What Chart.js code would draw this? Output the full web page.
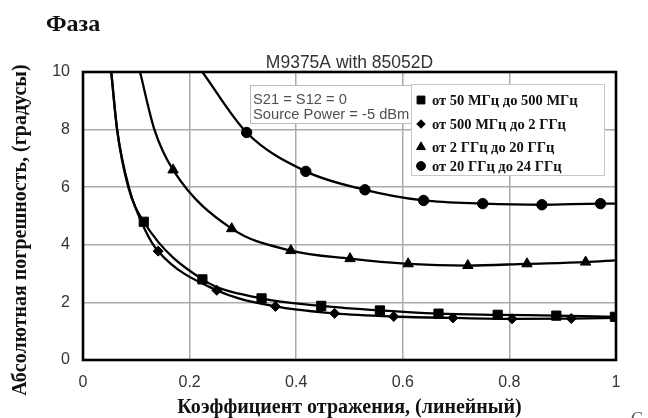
<!DOCTYPE html>
<html>
<head>
<meta charset="utf-8">
<script src="https://cdn.jsdelivr.net/npm/chart.js@4.4.1/dist/chart.umd.min.js"></script>
<style>
  html, body { margin: 0; padding: 0; background: #fff; }
  #wrap { width: 648px; height: 418px; position: relative; }
</style>
</head>
<body>
<div id="wrap"><canvas id="phaseChart"></canvas></div>
<script>
(function () {
  'use strict';

  // values
  const xTicks = [0, 0.2, 0.4, 0.6, 0.8, 1];
  const yTicks = [0, 2, 4, 6, 8, 10];

  const sqX = [0.114, 0.224, 0.335, 0.447, 0.557, 0.667, 0.778, 0.888, 0.998];
  const sqY = [4.80, 2.80, 2.14, 1.88, 1.72, 1.61, 1.57, 1.54, 1.50];
  const dmX = [0.141, 0.251, 0.361, 0.472, 0.583, 0.694, 0.805, 0.916];
  const dmY = [3.78, 2.42, 1.86, 1.62, 1.51, 1.46, 1.43, 1.44];
  const trX = [0.169, 0.279, 0.390, 0.501, 0.610, 0.722, 0.833, 0.943];
  const trY = [6.60, 4.56, 3.80, 3.52, 3.34, 3.28, 3.34, 3.40];
  const ciX = [0.307, 0.418, 0.529, 0.639, 0.750, 0.861, 0.971];
  const ciY = [7.90, 6.55, 5.91, 5.54, 5.43, 5.39, 5.43];

  // where each fitted curve comes in from the top and leaves at the right edge
  const sqHead = [[0.053, 10], [0.064, 8], [0.085, 6]];
  const dmHead = [[0.053, 10], [0.064, 8], [0.086, 6], [0.117, 4.5]];
  const trHead = [[0.107, 10], [0.134, 8]];
  const ciHead = [[0.224, 10]];
  const dmTail = [[1.0, 1.46]];
  const trTail = [[1.0, 3.46]];
  const ciTail = [[1.0, 5.43]];

  const seriesNames = [
    'от 50 МГц до 500 МГц',
    'от 500 МГц до 2 ГГц',
    'от 2 ГГц до 20 ГГц',
    'от 20 ГГц до 24 ГГц',
  ];
  const pointStyles = ['rect', 'rectRot', 'triangle', 'circle'];
  const pointSizes = [6.5, 5, 6, 5.2];

  const noteLines = ['S21 = S12 = 0', 'Source Power = -5 dBm'];

  const pts = (xs, ys) => xs.map((x, i) => ({ x, y: ys[i] }));
  const pairs = arr => arr.map(p => ({ x: p[0], y: p[1] }));

  const curves = [
    pairs(sqHead).concat(pts(sqX, sqY)),
    pairs(dmHead).concat(pts(dmX, dmY), pairs(dmTail)),
    pairs(trHead).concat(pts(trX, trY), pairs(trTail)),
    pairs(ciHead).concat(pts(ciX, ciY), pairs(ciTail)),
  ];
  const marks = [pts(sqX, sqY), pts(dmX, dmY), pts(trX, trY), pts(ciX, ciY)];

  const datasets = [];
  curves.forEach(c => datasets.push({
    data: c,
    borderColor: '#000',
    borderWidth: 2.3,
    pointRadius: 0,
    cubicInterpolationMode: 'monotone',
    fill: false,
  }));
  marks.forEach((m, i) => datasets.push({
    data: m,
    showLine: false,
    pointStyle: pointStyles[i],
    pointRadius: pointSizes[i],
    pointBackgroundColor: '#000',
    pointBorderColor: '#000',
    pointBorderWidth: 1,
  }));

  const SERIF = '"Liberation Serif", "DejaVu Serif", serif';
  const SANS = '"Liberation Sans", Arial, sans-serif';

  const decor = {
    id: 'decor',
    beforeDraw(chart) {
      const c = chart.ctx;
      c.save();
      c.fillStyle = '#fff';
      c.fillRect(0, 0, chart.width, chart.height);
      c.restore();
    },
    afterDraw(chart) {
      const c = chart.ctx;
      const a = chart.chartArea;
      c.save();

      // frame
      c.strokeStyle = '#000';
      c.lineWidth = 2.6;
      c.strokeRect(a.left, a.top, a.right - a.left, a.bottom - a.top);

      // note box
      c.fillStyle = '#fff';
      c.fillRect(250, 85, 161, 38);
      c.strokeStyle = '#bdbdbd';
      c.lineWidth = 1;
      c.strokeRect(250.5, 85.5, 161, 38);
      c.fillStyle = '#505050';
      c.font = '14.7px ' + SANS;
      c.textBaseline = 'alphabetic';
      c.textAlign = 'left';
      c.fillText(noteLines[0], 253, 104);
      c.fillText(noteLines[1], 253, 119);

      // legend box
      c.fillStyle = '#fff';
      c.fillRect(411, 84, 193, 91);
      c.strokeStyle = '#c8c8c8';
      c.strokeRect(411.5, 84.5, 193, 91);
      const rows = [100, 124, 147, 166];
      seriesNames.forEach((name, i) => {
        c.fillStyle = '#000';
        c.strokeStyle = '#000';
        Chart.helpers.drawPoint(c, {
          pointStyle: pointStyles[i],
          radius: pointSizes[i] * 0.85,
          rotation: 0,
          borderWidth: 1,
        }, 421, rows[i]);
        c.fillStyle = '#111';
        c.font = 'bold 14.5px ' + SERIF;
        c.textBaseline = 'middle';
        c.fillText(name, 432, rows[i] + 1);
      });

      // titles
      c.fillStyle = '#111';
      c.textBaseline = 'alphabetic';
      c.font = 'bold 24px ' + SERIF;
      c.textAlign = 'left';
      c.fillText('Фаза', 46, 31);

      c.fillStyle = '#333';
      c.font = '17.5px ' + SANS;
      c.textAlign = 'center';
      c.fillText('M9375A with 85052D', (a.left + a.right) / 2, 68);

      c.fillStyle = '#111';
      c.font = 'bold 20px ' + SERIF;
      c.fillText('Коэффициент отражения, (линейный)', (a.left + a.right) / 2, 413);

      // scrap of the next line of the page, cut by the bottom edge
      c.fillStyle = '#555';
      c.font = '18px ' + SERIF;
      c.textAlign = 'left';
      c.fillText('С', 631, 425);

      c.fillStyle = '#111';
      c.font = 'bold 20px ' + SERIF;
      c.textAlign = 'center';
      c.translate(26, 230);
      c.rotate(-Math.PI / 2);
      c.fillText('Абсолютная погрешность, (градусы)', 0, 0);

      c.restore();
    },
  };

  new Chart(document.getElementById('phaseChart'), {
    type: 'line',
    data: { datasets },
    options: {
      responsive: true,
      maintainAspectRatio: false,
      animation: false,
      events: [],
      layout: { padding: { left: 0, top: 72, right: 32, bottom: 0 } },
      plugins: {
        legend: { display: false },
        title: { display: false },
        tooltip: { enabled: false },
      },
      scales: {
        x: {
          type: 'linear',
          min: 0,
          max: 1,
          afterBuildTicks: s => { s.ticks = xTicks.map(v => ({ value: v })); },
          afterFit: s => { s.height = 58; },
          ticks: {
            color: '#333',
            font: { family: SANS, size: 16 },
            padding: 13,
            maxRotation: 0,
            callback: v => String(v),
          },
          grid: { color: '#ababab', lineWidth: 1.5, drawTicks: false },
          border: { display: false },
        },
        y: {
          type: 'linear',
          min: 0,
          max: 10,
          afterBuildTicks: s => { s.ticks = yTicks.map(v => ({ value: v })); },
          afterFit: s => { s.width = 83; },
          ticks: {
            color: '#333',
            font: { family: SANS, size: 16 },
            padding: 13,
            callback: v => String(v),
          },
          grid: { color: '#ababab', lineWidth: 1.5, drawTicks: false },
          border: { display: false },
        },
      },
    },
    plugins: [decor],
  });
})();
</script>
</body>
</html>
